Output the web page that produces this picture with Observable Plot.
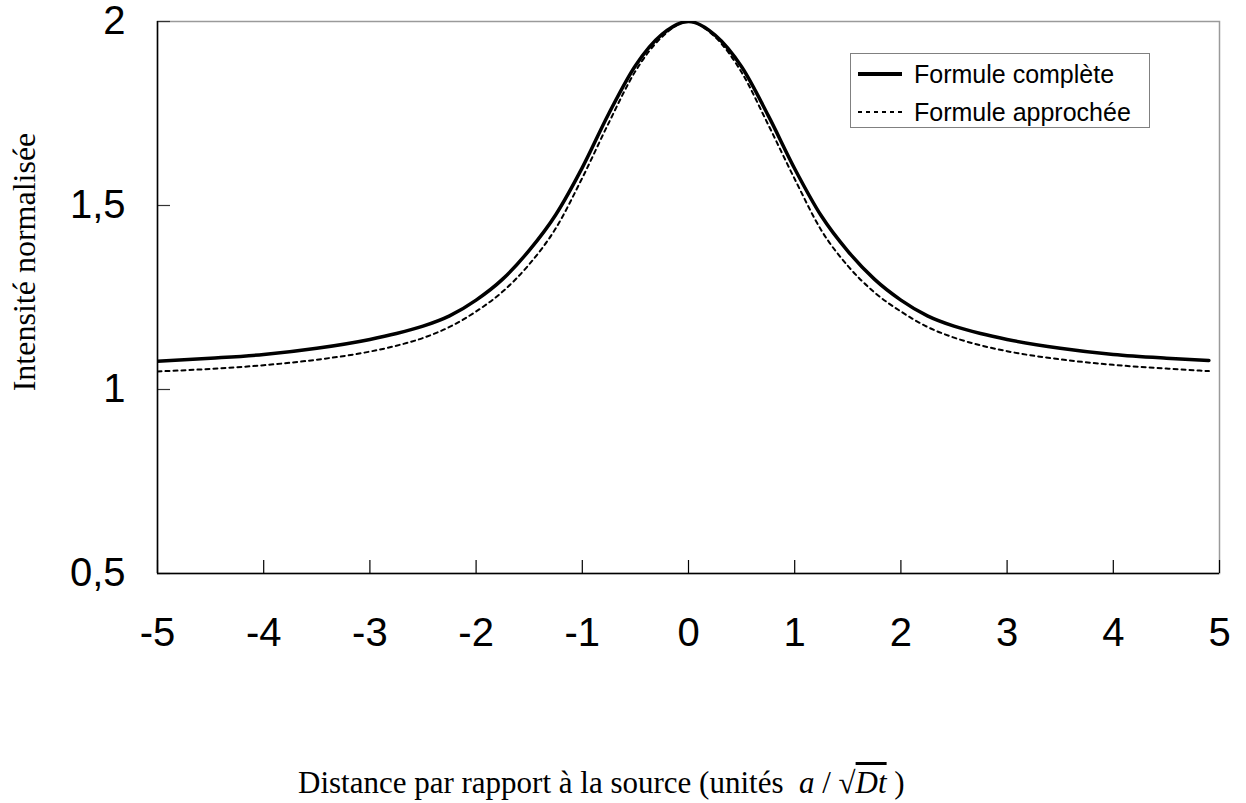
<!DOCTYPE html>
<html>
<head>
<meta charset="utf-8">
<script src="https://cdn.jsdelivr.net/npm/d3@7"></script>
<script src="https://cdn.jsdelivr.net/npm/@observablehq/plot@0.6"></script>
<style>
  body { margin: 0; background: #fff; }
  #wrap { position: relative; width: 1246px; height: 803px; background: #fff; }
  #chart svg { overflow: visible; }
  #ytitle { position: absolute; left: 24px; top: 262px; transform: translate(-50%, -50%) rotate(-90deg);
            font-family: "Liberation Serif", "Times New Roman", serif; font-size: 32px; line-height: 1; white-space: nowrap; color: #000; }
  #xtitle { position: absolute; left: 298px; top: 767px; font-family: "Liberation Serif", "Times New Roman", serif;
            font-size: 31px; line-height: 1; white-space: nowrap; color: #000; }
  #legend { position: absolute; left: 850px; top: 53px; width: 298px; height: 73px; border: 1.5px solid #808080; background: #fff;
            font-family: "Liberation Sans", Arial, sans-serif; font-size: 25px; color: #000; }
  .row { position: absolute; left: 0; height: 30px; display: flex; align-items: center; }
  .row svg { margin-left: 7px; margin-right: 12px; }
</style>
</head>
<body>
<div id="wrap">
  <div id="chart"></div>
  <div id="ytitle">Intensité normalisée</div>
  <div id="xtitle">Distance par rapport à la source (unités&nbsp; <i>a</i> / <span>√<span style="text-decoration: overline;"><i>Dt</i></span></span> )</div>
  <div id="legend"></div>
</div>
<script>
// Distance (units a/sqrt(Dt))
const distance = [-5, -4.5, -4, -3.5, -3, -2.75, -2.5, -2.25, -2, -1.75, -1.5, -1.25, -1, -0.75, -0.5, -0.25, 0,
                  0.25, 0.5, 0.75, 1, 1.25, 1.5, 1.75, 2, 2.25, 2.5, 2.75, 3, 3.5, 4, 4.5, 4.9];
// Formule complète
const complete = [1.077, 1.085, 1.095, 1.112, 1.136, 1.152, 1.172, 1.200, 1.243, 1.300, 1.378, 1.475, 1.603, 1.750, 1.880, 1.965, 2.0,
                  1.963, 1.877, 1.745, 1.600, 1.472, 1.376, 1.300, 1.243, 1.200, 1.172, 1.152, 1.136, 1.112, 1.095, 1.085, 1.079];
// Formule approchée
const approx = [1.049, 1.056, 1.066, 1.081, 1.103, 1.119, 1.140, 1.170, 1.212, 1.266, 1.340, 1.438, 1.575, 1.725, 1.865, 1.958, 2.0,
                1.958, 1.862, 1.720, 1.572, 1.433, 1.336, 1.264, 1.212, 1.170, 1.141, 1.120, 1.104, 1.082, 1.067, 1.057, 1.050];
const seriesNames = ["Formule complète", "Formule approchée"];
const xTicks = [-5, -4, -3, -2, -1, 0, 1, 2, 3, 4, 5];
const yTicks = [0.5, 1, 1.5, 2];

const rowsComplete = distance.map((d, i) => ({x: d, y: complete[i]}));
const rowsApprox = distance.map((d, i) => ({x: d, y: approx[i]}));

const chart = Plot.plot({
  width: 1246,
  height: 700,
  marginLeft: 157,
  marginRight: 27,
  marginTop: 21,
  marginBottom: 127,
  style: {fontFamily: "'Liberation Sans', Arial, sans-serif", fontSize: "40px", color: "#000", background: "#fff", overflow: "visible"},
  x: {domain: [-5, 5]},
  y: {domain: [0.5, 2]},
  marks: [
    Plot.frame({stroke: "#9a9a9a", strokeWidth: 1.5}),
    Plot.axisX(xTicks, {anchor: "bottom", tickSize: -13, tickPadding: 57, label: null, fontSize: 40, stroke: "#000", strokeWidth: 1.2, tickFormat: d => String(d)}),
    Plot.axisY(yTicks, {anchor: "left", tickSize: -13, tickPadding: 45, label: null, fontSize: 40, stroke: "#333", strokeWidth: 1.2, tickFormat: d => String(d).replace(".", ",")}),
    Plot.ruleX([-5], {stroke: "#000", strokeWidth: 1.5}),
    Plot.ruleY([0.5], {stroke: "#000", strokeWidth: 1.5}),
    Plot.line(rowsApprox, {x: "x", y: "y", stroke: "#000", strokeWidth: 2, strokeDasharray: "4,4", curve: "monotone-x", clip: "frame"}),
    Plot.line(rowsComplete, {x: "x", y: "y", stroke: "#000", strokeWidth: 3.5, curve: "monotone-x", clip: "frame"})
  ]
});
document.getElementById("chart").appendChild(chart);

// Legend
const legend = document.getElementById("legend");
const styles = [{w: 4, dash: null}, {w: 2, dash: "4,4"}];
const tops = [5, 43];
seriesNames.forEach((name, i) => {
  const row = document.createElement("div");
  row.className = "row";
  row.style.top = tops[i] + "px";
  const s = styles[i];
  row.innerHTML = `<svg width="44" height="10"><line x1="0" y1="5" x2="44" y2="5" stroke="#000" stroke-width="${s.w}" ${s.dash ? `stroke-dasharray="${s.dash}"` : ""}/></svg><span>${name}</span>`;
  legend.appendChild(row);
});
</script>
</body>
</html>
